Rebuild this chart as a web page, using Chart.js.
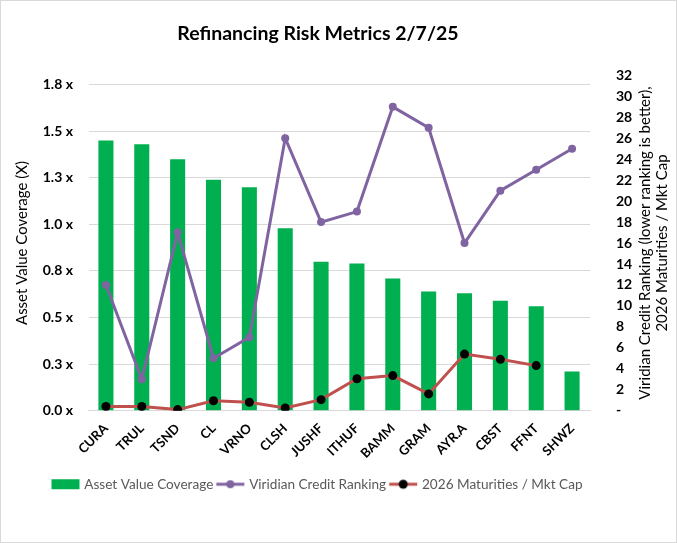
<!DOCTYPE html>
<html>
<head>
<meta charset="utf-8">
<script src="https://cdn.jsdelivr.net/npm/chart.js@4.4.1/dist/chart.umd.min.js"></script>
<style>
  html, body { margin: 0; padding: 0; background: #fff; overflow: hidden; }
  #wrap { position: relative; width: 677px; height: 543px; overflow: hidden; }
  #frame { position: absolute; left: 0; top: 0; width: 675px; height: 541px; border: 1px solid #d9d9d9; pointer-events: none; }
  #chart { position: absolute; left: -41px; top: 0; }
</style>
</head>
<body>
<div id="wrap">
  <canvas id="chart" width="718" height="543"></canvas>
  <div id="frame"></div>
</div>
<script>
var tickers = ['CURA', 'TRUL', 'TSND', 'CL', 'VRNO', 'CLSH', 'JUSHF', 'ITHUF', 'BAMM', 'GRAM', 'AYR.A', 'CBST', 'FFNT', 'SHWZ']
var coverage = [1.45, 1.43, 1.35, 1.24, 1.20, 0.98, 0.80, 0.79, 0.71, 0.64, 0.63, 0.59, 0.56, 0.21]
var ranking = [12, 3, 17, 5, 7, 26, 18, 19, 29, 27, 16, 21, 23, 25]
var maturities = [0.4, 0.4, 0.1, 0.95, 0.8, 0.25, 1.05, 3.05, 3.35, 1.6, 5.4, 4.9, 4.3, null]
var leftTicks = [0, 0.25, 0.5, 0.75, 1.0, 1.25, 1.5, 1.75]
var rightTitle = ['Viridian Credit Ranking (lower ranking is better),', '2026 Maturities / Mkt Cap']

var FONT = 'Lato, "Open Sans", sans-serif'

// little legend icons like excel's
function icon(kind){
    var c = document.createElement('canvas')
    c.width = 30; c.height = 12
    var g = c.getContext('2d')
    if (kind == 'bar') {
        g.fillStyle = '#00B050'
        g.fillRect(1, 1, 28, 10)
    } else {
        g.strokeStyle = kind == 'purple' ? '#8064A2' : '#C0504D'
        g.lineWidth = 3
        g.beginPath(); g.moveTo(1, 6); g.lineTo(29, 6); g.stroke()
        g.fillStyle = kind == 'purple' ? '#8064A2' : '#000'
        g.beginPath(); g.arc(15, 6, kind == 'purple' ? 4 : 4.5, 0, Math.PI * 2); g.fill()
    }
    return c
}
var icons = [icon('bar'), icon('purple'), icon('red')]

// right axis title reads bottom-to-top in the original
var rightTitlePlugin = {
    id: 'rightTitle',
    afterDraw(chart){
        var ctx = chart.ctx
        var cy = (chart.chartArea.top + chart.chartArea.bottom) / 2
        ctx.save()
        ctx.fillStyle = '#000'
        ctx.font = '15px ' + FONT
        ctx.textAlign = 'center'
        ctx.textBaseline = 'middle'
        var xs = [686, 703]
        rightTitle.forEach((line, i) => {
            ctx.save()
            ctx.translate(xs[i], cy)
            ctx.rotate(-Math.PI / 2)
            ctx.fillText(line, 0, 0)
            ctx.restore()
        })
        ctx.restore()
    }
}

var ctx = document.getElementById('chart').getContext('2d')

var chart = new Chart(ctx, {
    type: 'bar',
    data: { labels: tickers, datasets: [
        { type: 'bar', label: 'Asset Value Coverage', data: coverage, backgroundColor: '#00B050', borderWidth: 0,
          barPercentage: 0.42, categoryPercentage: 1, yAxisID: 'y', order: 3 },
        { type: 'line', label: 'Viridian Credit Ranking', data: ranking, borderColor: '#8064A2', backgroundColor: '#8064A2',
          borderWidth: 3, pointRadius: 4, pointBorderWidth: 0, lineTension: 0, yAxisID: 'y1', order: 2 },
        { type: 'line', label: '2026 Maturities / Mkt Cap', data: maturities, borderColor: '#C0504D', backgroundColor: '#000',
          pointBackgroundColor: '#000', borderWidth: 3, pointRadius: 4.5, pointBorderWidth: 0, lineTension: 0, yAxisID: 'y1', order: 1 }
    ] },
    plugins: [rightTitlePlugin],
    options: {
        responsive: false,
        animation: false,
        layout: { padding: { left: 0, right: 0, top: 0, bottom: 42 } },
        plugins: {
            tooltip: { enabled: false },
            title: {
                display: true,
                text: 'Refinancing Risk Metrics 2/7/25',
                color: '#000',
                font: { family: FONT, size: 19.5, weight: 'bold' },
                padding: { top: 22, bottom: 30 }
            },
            legend: {
                position: 'bottom',
                labels: {
                    usePointStyle: true,
                    pointStyleWidth: 24,
                    padding: 5,
                    color: '#595959',
                    font: { family: FONT, size: 13.6 },
                    generateLabels: (c) => c.data.datasets.map((ds, i) => ({
                        text: ds.label, pointStyle: icons[i], fontColor: '#595959', lineWidth: 0, datasetIndex: i
                    }))
                }
            }
        },
        scales: {
            x: {
                grid: { display: false },
                border: { color: '#d9d9d9' },
                afterFit: (s) => { s.height += 9 },
                ticks: { color: '#000', font: { family: FONT, size: 13, weight: 'bold' },
                    maxRotation: 45, minRotation: 45, autoSkip: false, padding: 2 }
            },
            y: {
                position: 'left',
                min: 0,
                max: 1.8,
                afterBuildTicks: (s) => { s.ticks = leftTicks.map(v => ({ value: v })) },
                afterFit: (s) => { s.width = 129 },
                grid: { color: '#d9d9d9', lineWidth: 1, drawTicks: false },
                border: { color: 'transparent' },
                ticks: {
                    color: '#000',
                    padding: 15,
                    font: { family: FONT, size: 14, weight: 'bold' },
                    callback: (v) => v.toFixed(1) + ' x'
                },
                title: { display: true, text: 'Asset Value Coverage (X)', color: '#000',
                    font: { family: FONT, size: 15 }, padding: { top: 54, bottom: 8 } }
            },
            y1: {
                position: 'right',
                min: 0,
                max: 32,
                afterFit: (s) => { s.width = 87 },
                grid: { display: false },
                border: { color: 'transparent' },
                ticks: { stepSize: 2, color: '#000', padding: 18,
                    font: { family: FONT, size: 14, weight: 'bold' },
                    callback: (v) => v == 0 ? '-' : v }
            }
        }
    }
})
</script>
</body>
</html>
